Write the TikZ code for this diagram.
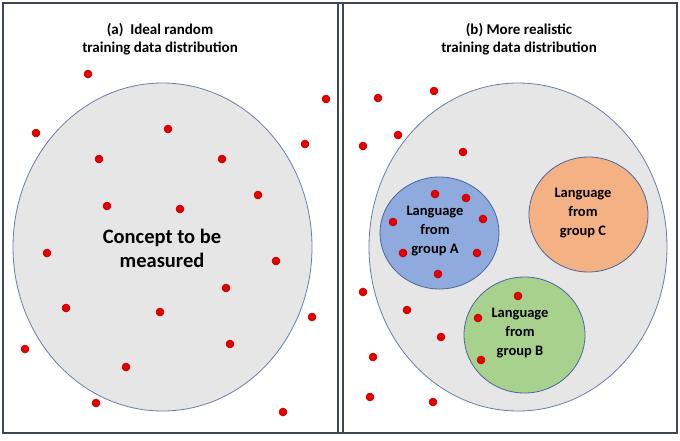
\documentclass[tikz,border=0pt]{standalone}
\usepackage{fontspec}
\setmainfont{Carlito}
\definecolor{framec}{HTML}{3E4756}
\definecolor{bigfill}{HTML}{E7E6E6}
\definecolor{edgec}{HTML}{6A7FA0}
\definecolor{afill}{HTML}{8FAADC}
\definecolor{aedge}{HTML}{4A65A0}
\definecolor{cfill}{HTML}{F4B183}
\definecolor{bfill}{HTML}{A9D18E}
\definecolor{dotfill}{HTML}{E60000}
\definecolor{dotedge}{HTML}{B00000}
\tikzset{
  dotmark/.style={fill=dotfill,draw=dotedge,line width=0.5pt},
  bigell/.style={fill=bigfill,draw=edgec,line width=0.8pt},
  grp/.style={draw=aedge,line width=0.8pt},
  title/.style={font=\bfseries\fontsize{15}{18}\selectfont,align=center,text=black},
  grptxt/.style={font=\bfseries\fontsize{14.5}{19}\selectfont,align=center,text=black},
  bigtxt/.style={font=\bfseries\fontsize{20.5}{24}\selectfont,align=center,text=black}
}
\begin{document}
\begin{tikzpicture}[x=1pt,y=-1pt]
\useasboundingbox (0,0) rectangle (680,440);
\fill[white] (0,0) rectangle (680,440);
% frame
\draw[framec,line width=1.3pt] (3,3) rectangle (677,433);
\draw[framec,line width=1.2pt] (338,3) -- (338,433);
\draw[framec,line width=1.2pt] (343,3) -- (343,433);
% left panel
\draw[bigell] (162.5,247) ellipse [x radius=149.5, y radius=164];
\node[title] (ta) at (160,39) {(a)~~Ideal random\\training data distribution};
\node[bigtxt] (concept) at (162,248) {Concept to be\\measured};
\foreach \p in {(88,74),(326,99),(36,133),(168,129),(305,144),(99,159),(222,159),(258,195),(107,206),(180,209),(47,253),(276,261),(226,288),(66,308),(160,312),(312,317),(25,349),(230,344),(126,367),(96,403),(283,412)}
  \draw[dotmark] \p circle [radius=4];
% right panel
\draw[bigell] (518,247) ellipse [x radius=149, y radius=164];
\draw[grp,fill=afill] (439.5,233) ellipse [x radius=59.5, y radius=56];
\draw[grp,fill=cfill] (588.5,214.5) ellipse [x radius=59.5, y radius=57.5];
\draw[grp,fill=bfill] (524.5,335) ellipse [x radius=60.5, y radius=58];
\node[title] (tb) at (519,39) {(b) More realistic\\training data distribution};
\node[grptxt] (ga) at (435,231) {Language\\from\\group A};
\node[grptxt] (gc) at (583,213) {Language\\from\\group C};
\node[grptxt] (gb) at (520,333) {Language\\from\\group B};
\foreach \p in {(378,98),(434,91),(398,135),(363,146),(463,152),(435,194),(466,198),(483,219),(393,222),(403,253),(477,253),(438,274),(363,292),(407,310),(441,337),(373,357),(370,397),(433,402),(518,296),(478,318),(481,360)}
  \draw[dotmark] \p circle [radius=4];
\end{tikzpicture}
\end{document}
